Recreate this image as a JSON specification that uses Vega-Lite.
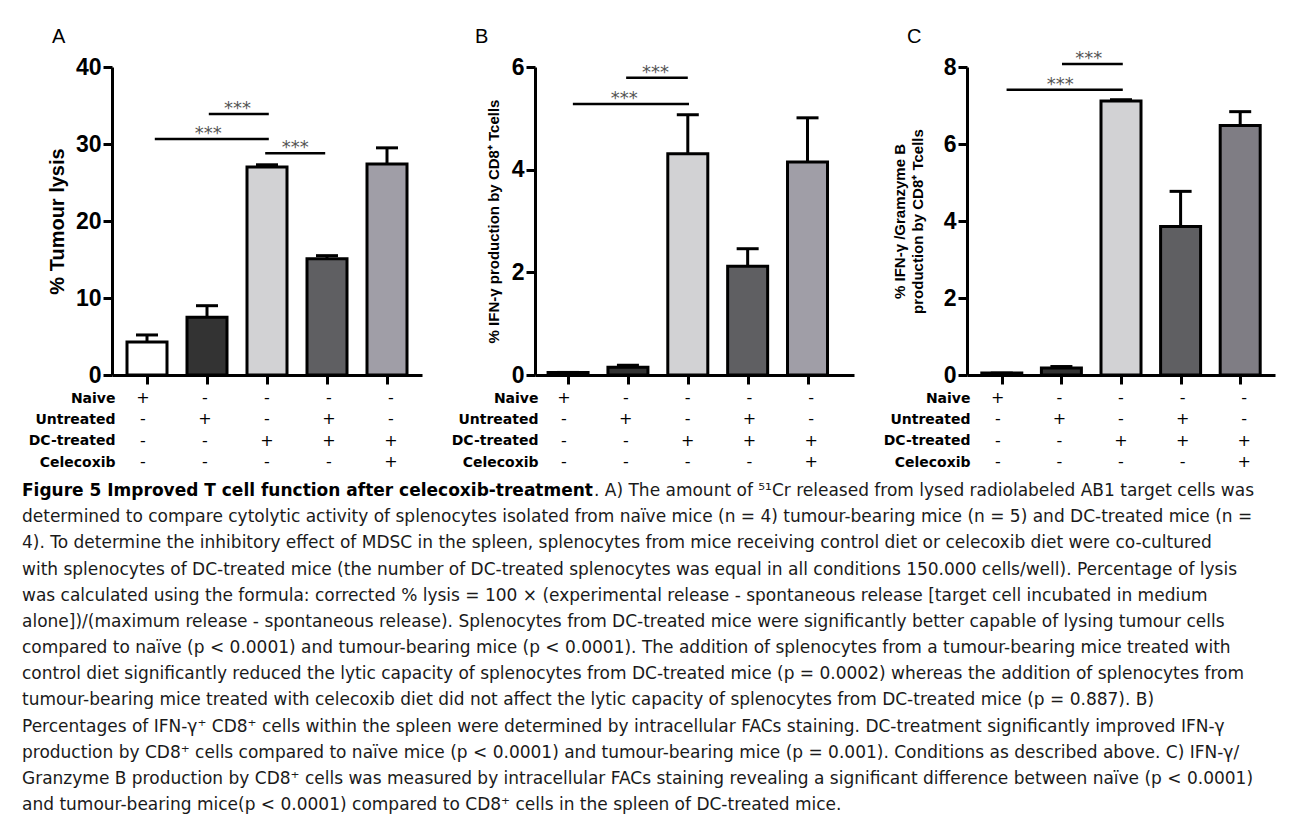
{
  "$schema": "https://vega.github.io/schema/vega-lite/v6.json",
  "background": "white",
  "padding": {"left": 22, "top": 26, "right": 4, "bottom": 4},
  "config": {
    "view": {"stroke": null},
    "axis": {"domainColor": "black", "tickColor": "black", "labelColor": "black", "titleColor": "black", "grid": false},
    "title": {"font": "Liberation Sans", "fontSize": 20, "fontWeight": "normal", "anchor": "start", "frame": "group", "dx": -60, "offset": 9.5, "color": "black"}
  },
  "datasets": {
    "barsA": [
      {"pos": 1, "value": 4.3, "upper": 5.2},
      {"pos": 2, "value": 7.5, "upper": 9.0},
      {"pos": 3, "value": 27.0, "upper": 27.3},
      {"pos": 4, "value": 15.1, "upper": 15.5},
      {"pos": 5, "value": 27.4, "upper": 29.5}
    ],
    "barsB": [
      {"pos": 1, "value": 0.05, "upper": 0.05},
      {"pos": 2, "value": 0.15, "upper": 0.19},
      {"pos": 3, "value": 4.31, "upper": 5.07},
      {"pos": 4, "value": 2.12, "upper": 2.46},
      {"pos": 5, "value": 4.15, "upper": 5.01}
    ],
    "barsC": [
      {"pos": 1, "value": 0.05, "upper": 0.05},
      {"pos": 2, "value": 0.18, "upper": 0.22},
      {"pos": 3, "value": 7.12, "upper": 7.15},
      {"pos": 4, "value": 3.86, "upper": 4.77},
      {"pos": 5, "value": 6.48, "upper": 6.84}
    ],
    "sigA": [
      {"x1": 2.03, "x2": 3.03, "y": 33.9, "tx": 2.51, "label": "***"},
      {"x1": 1.13, "x2": 3.03, "y": 30.65, "tx": 2.02, "label": "***"},
      {"x1": 2.97, "x2": 3.97, "y": 28.8, "tx": 3.47, "label": "***"}
    ],
    "sigB": [
      {"x1": 1.97, "x2": 3.0, "y": 5.79, "tx": 2.46, "label": "***"},
      {"x1": 1.08, "x2": 3.02, "y": 5.28, "tx": 1.94, "label": "***"}
    ],
    "sigC": [
      {"x1": 2.01, "x2": 3.03, "y": 8.08, "tx": 2.46, "label": "***"},
      {"x1": 1.08, "x2": 3.03, "y": 7.41, "tx": 1.98, "label": "***"}
    ],
    "conditions": [
      {"row": "Naive", "col": 1, "sign": "+"},
      {"row": "Naive", "col": 2, "sign": "-"},
      {"row": "Naive", "col": 3, "sign": "-"},
      {"row": "Naive", "col": 4, "sign": "-"},
      {"row": "Naive", "col": 5, "sign": "-"},
      {"row": "Untreated", "col": 1, "sign": "-"},
      {"row": "Untreated", "col": 2, "sign": "+"},
      {"row": "Untreated", "col": 3, "sign": "-"},
      {"row": "Untreated", "col": 4, "sign": "+"},
      {"row": "Untreated", "col": 5, "sign": "-"},
      {"row": "DC-treated", "col": 1, "sign": "-"},
      {"row": "DC-treated", "col": 2, "sign": "-"},
      {"row": "DC-treated", "col": 3, "sign": "+"},
      {"row": "DC-treated", "col": 4, "sign": "+"},
      {"row": "DC-treated", "col": 5, "sign": "+"},
      {"row": "Celecoxib", "col": 1, "sign": "-"},
      {"row": "Celecoxib", "col": 2, "sign": "-"},
      {"row": "Celecoxib", "col": 3, "sign": "-"},
      {"row": "Celecoxib", "col": 4, "sign": "-"},
      {"row": "Celecoxib", "col": 5, "sign": "+"}
    ],
    "caption": [
      {"line": 1, "style": "bold", "text": "Figure 5 Improved T cell function after celecoxib-treatment"},
      {"line": 1, "style": "cont", "text": ". A) The amount of ⁵¹Cr released from lysed radiolabeled AB1 target cells was"},
      {"line": 2, "style": "normal", "text": "determined to compare cytolytic activity of splenocytes isolated from naïve mice (n = 4) tumour-bearing mice (n = 5) and DC-treated mice (n ="},
      {"line": 3, "style": "normal", "text": "4). To determine the inhibitory effect of MDSC in the spleen, splenocytes from mice receiving control diet or celecoxib diet were co-cultured"},
      {"line": 4, "style": "normal", "text": "with splenocytes of DC-treated mice (the number of DC-treated splenocytes was equal in all conditions 150.000 cells/well). Percentage of lysis"},
      {"line": 5, "style": "normal", "text": "was calculated using the formula: corrected % lysis = 100 × (experimental release - spontaneous release [target cell incubated in medium"},
      {"line": 6, "style": "normal", "text": "alone])/(maximum release - spontaneous release). Splenocytes from DC-treated mice were significantly better capable of lysing tumour cells"},
      {"line": 7, "style": "normal", "text": "compared to naïve (p < 0.0001) and tumour-bearing mice (p < 0.0001). The addition of splenocytes from a tumour-bearing mice treated with"},
      {"line": 8, "style": "normal", "text": "control diet significantly reduced the lytic capacity of splenocytes from DC-treated mice (p = 0.0002) whereas the addition of splenocytes from"},
      {"line": 9, "style": "normal", "text": "tumour-bearing mice treated with celecoxib diet did not affect the lytic capacity of splenocytes from DC-treated mice (p = 0.887). B)"},
      {"line": 10, "style": "normal", "text": "Percentages of IFN-γ⁺ CD8⁺ cells within the spleen were determined by intracellular FACs staining. DC-treatment significantly improved IFN-γ"},
      {"line": 11, "style": "normal", "text": "production by CD8⁺ cells compared to naïve mice (p < 0.0001) and tumour-bearing mice (p = 0.001). Conditions as described above. C) IFN-γ/"},
      {"line": 12, "style": "normal", "text": "Granzyme B production by CD8⁺ cells was measured by intracellular FACs staining revealing a significant difference between naïve (p < 0.0001)"},
      {"line": 13, "style": "normal", "text": "and tumour-bearing mice(p < 0.0001) compared to CD8⁺ cells in the spleen of DC-treated mice."}
    ]
  },
  "spacing": 12,
  "vconcat": [
    {
      "columns": 3,
      "bounds": "flush",
      "spacing": {"row": 23, "column": 113},
      "resolve": {"scale": {"x": "independent", "y": "independent", "fill": "independent"}},
      "concat": [
        {
          "width": 310, "height": 308,
          "title": {"text": "A"},
          "layer": [
            {
              "data": {"name": "barsA"},
              "mark": {"type": "bar", "orient": "vertical", "width": 40, "stroke": "black", "strokeWidth": 3, "opacity": 1},
              "encoding": {
                "x": {"field": "pos", "type": "quantitative", "scale": {"domain": [0.5, 5.5], "nice": false, "zero": false},
                      "axis": {"values": [1, 2, 3, 4, 5], "labels": false, "title": null, "domainWidth": 3, "tickWidth": 3, "tickSize": 9}},
                "y": {"field": "value", "type": "quantitative", "scale": {"domain": [0, 40], "nice": false},
                      "axis": {"values": [0, 10, 20, 30, 40], "title": "% Tumour lysis", "domainWidth": 3, "tickWidth": 3, "tickSize": 9,
                               "labelFont": "Liberation Sans", "labelFontWeight": "bold", "labelFontSize": 23, "labelPadding": 2,
                               "titleFont": "Liberation Sans", "titleFontWeight": "bold", "titleFontSize": 20, "titlePadding": 8}},
                "fill": {"field": "pos", "type": "nominal", "legend": null,
                         "scale": {"domain": [1, 2, 3, 4, 5], "range": ["#ffffff", "#333333", "#d2d2d4", "#5f5f62", "#a09ea7"]}}
              }
            },
            {
              "data": {"name": "barsA"},
              "mark": {"type": "rule", "strokeWidth": 3, "color": "black"},
              "encoding": {"x": {"field": "pos", "type": "quantitative"}, "y": {"field": "value", "type": "quantitative"}, "y2": {"field": "upper"}}
            },
            {
              "data": {"name": "barsA"},
              "mark": {"type": "tick", "orient": "horizontal", "size": 22, "thickness": 3, "color": "black", "opacity": 1},
              "encoding": {"x": {"field": "pos", "type": "quantitative"}, "y": {"field": "upper", "type": "quantitative"}}
            },
            {
              "data": {"name": "sigA"},
              "mark": {"type": "rule", "strokeWidth": 2.5, "color": "black"},
              "encoding": {"x": {"field": "x1", "type": "quantitative"}, "x2": {"field": "x2"}, "y": {"field": "y", "type": "quantitative"}}
            },
            {
              "data": {"name": "sigA"},
              "mark": {"type": "text", "font": "DejaVu Sans", "fontSize": 18, "color": "#555555", "baseline": "alphabetic", "align": "center"},
              "encoding": {"x": {"field": "tx", "type": "quantitative"}, "y": {"field": "y", "type": "quantitative"}, "text": {"field": "label"}}
            }
          ]
        },
        {
          "width": 319, "height": 308,
          "title": {"text": "B"},
          "layer": [
            {
              "data": {"name": "barsB"},
              "mark": {"type": "bar", "orient": "vertical", "width": 40, "stroke": "black", "strokeWidth": 3, "opacity": 1},
              "encoding": {
                "x": {"field": "pos", "type": "quantitative", "scale": {"domain": [0.531, 5.693], "nice": false, "zero": false},
                      "axis": {"values": [1, 2, 3, 4, 5], "labels": false, "title": null, "domainWidth": 3, "tickWidth": 3, "tickSize": 9}},
                "y": {"field": "value", "type": "quantitative", "scale": {"domain": [0, 6], "nice": false},
                      "axis": {"values": [0, 2, 4, 6], "title": "% IFN-γ production by CD8⁺ Tcells", "domainWidth": 3, "tickWidth": 3, "tickSize": 9,
                               "labelFont": "Liberation Sans", "labelFontWeight": "bold", "labelFontSize": 23, "labelPadding": 2,
                               "titleFont": "Liberation Sans", "titleFontWeight": "bold", "titleFontSize": 15, "titlePadding": 10}},
                "fill": {"field": "pos", "type": "nominal", "legend": null,
                         "scale": {"domain": [1, 2, 3, 4, 5], "range": ["#ffffff", "#333333", "#d2d2d4", "#5f5f62", "#a09ea7"]}}
              }
            },
            {
              "data": {"name": "barsB"},
              "mark": {"type": "rule", "strokeWidth": 3, "color": "black"},
              "encoding": {"x": {"field": "pos", "type": "quantitative"}, "y": {"field": "value", "type": "quantitative"}, "y2": {"field": "upper"}}
            },
            {
              "data": {"name": "barsB"},
              "mark": {"type": "tick", "orient": "horizontal", "size": 22, "thickness": 3, "color": "black", "opacity": 1},
              "encoding": {"x": {"field": "pos", "type": "quantitative"}, "y": {"field": "upper", "type": "quantitative"}}
            },
            {
              "data": {"name": "sigB"},
              "mark": {"type": "rule", "strokeWidth": 2.5, "color": "black"},
              "encoding": {"x": {"field": "x1", "type": "quantitative"}, "x2": {"field": "x2"}, "y": {"field": "y", "type": "quantitative"}}
            },
            {
              "data": {"name": "sigB"},
              "mark": {"type": "text", "font": "DejaVu Sans", "fontSize": 18, "color": "#555555", "baseline": "alphabetic", "align": "center"},
              "encoding": {"x": {"field": "tx", "type": "quantitative"}, "y": {"field": "y", "type": "quantitative"}, "text": {"field": "label"}}
            }
          ]
        },
        {
          "width": 308, "height": 308,
          "title": {"text": "C", "offset": 2.5},
          "layer": [
            {
              "data": {"name": "barsC"},
              "mark": {"type": "bar", "orient": "vertical", "width": 40, "stroke": "black", "strokeWidth": 3, "opacity": 1},
              "encoding": {
                "x": {"field": "pos", "type": "quantitative", "scale": {"domain": [0.5, 5.5], "nice": false, "zero": false},
                      "axis": {"values": [1, 2, 3, 4, 5], "labels": false, "title": null, "domainWidth": 3, "tickWidth": 3, "tickSize": 9}},
                "y": {"field": "value", "type": "quantitative", "scale": {"domain": [0, 8], "nice": false},
                      "axis": {"values": [0, 2, 4, 6, 8], "title": ["% IFN-γ /Gramzyme B", "production by CD8⁺ Tcells"], "domainWidth": 3, "tickWidth": 3, "tickSize": 9,
                               "labelFont": "Liberation Sans", "labelFontWeight": "bold", "labelFontSize": 23, "labelPadding": 2,
                               "titleFont": "Liberation Sans", "titleFontWeight": "bold", "titleFontSize": 15, "titleLineHeight": 18, "titlePadding": 18}},
                "fill": {"field": "pos", "type": "nominal", "legend": null,
                         "scale": {"domain": [1, 2, 3, 4, 5], "range": ["#ffffff", "#333333", "#d2d2d4", "#5f5f62", "#7f7d84"]}}
              }
            },
            {
              "data": {"name": "barsC"},
              "mark": {"type": "rule", "strokeWidth": 3, "color": "black"},
              "encoding": {"x": {"field": "pos", "type": "quantitative"}, "y": {"field": "value", "type": "quantitative"}, "y2": {"field": "upper"}}
            },
            {
              "data": {"name": "barsC"},
              "mark": {"type": "tick", "orient": "horizontal", "size": 22, "thickness": 3, "color": "black", "opacity": 1},
              "encoding": {"x": {"field": "pos", "type": "quantitative"}, "y": {"field": "upper", "type": "quantitative"}}
            },
            {
              "data": {"name": "sigC"},
              "mark": {"type": "rule", "strokeWidth": 2.5, "color": "black"},
              "encoding": {"x": {"field": "x1", "type": "quantitative"}, "x2": {"field": "x2"}, "y": {"field": "y", "type": "quantitative"}}
            },
            {
              "data": {"name": "sigC"},
              "mark": {"type": "text", "font": "DejaVu Sans", "fontSize": 18, "color": "#555555", "baseline": "alphabetic", "align": "center"},
              "encoding": {"x": {"field": "tx", "type": "quantitative"}, "y": {"field": "y", "type": "quantitative"}, "text": {"field": "label"}}
            }
          ]
        },
        {
          "width": 310, "height": 64,
          "data": {"name": "conditions"},
          "mark": {"type": "text", "font": "DejaVu Sans", "fontSize": 16, "color": "black", "baseline": "middle", "align": "center"},
          "encoding": {
            "x": {"field": "col", "type": "quantitative", "scale": {"domain": [0.5, 5.5], "nice": false, "zero": false}, "axis": null},
            "y": {"field": "row", "type": "ordinal", "sort": ["Naive", "Untreated", "DC-treated", "Celecoxib"], "scale": {"type": "point", "padding": 0},
                  "axis": {"title": null, "domain": false, "ticks": false, "tickSize": 0, "labelPadding": -3, "labelFont": "DejaVu Sans", "labelFontWeight": "bold", "labelFontSize": 14}},
            "text": {"field": "sign"}
          }
        },
        {
          "width": 319, "height": 64,
          "data": {"name": "conditions"},
          "mark": {"type": "text", "font": "DejaVu Sans", "fontSize": 16, "color": "black", "baseline": "middle", "align": "center"},
          "encoding": {
            "x": {"field": "col", "type": "quantitative", "scale": {"domain": [0.531, 5.693], "nice": false, "zero": false}, "axis": null},
            "y": {"field": "row", "type": "ordinal", "sort": ["Naive", "Untreated", "DC-treated", "Celecoxib"], "scale": {"type": "point", "padding": 0},
                  "axis": {"title": null, "domain": false, "ticks": false, "tickSize": 0, "labelPadding": -3, "labelFont": "DejaVu Sans", "labelFontWeight": "bold", "labelFontSize": 14}},
            "text": {"field": "sign"}
          }
        },
        {
          "width": 308, "height": 64,
          "data": {"name": "conditions"},
          "mark": {"type": "text", "font": "DejaVu Sans", "fontSize": 16, "color": "black", "baseline": "middle", "align": "center"},
          "encoding": {
            "x": {"field": "col", "type": "quantitative", "scale": {"domain": [0.5, 5.5], "nice": false, "zero": false}, "axis": null},
            "y": {"field": "row", "type": "ordinal", "sort": ["Naive", "Untreated", "DC-treated", "Celecoxib"], "scale": {"type": "point", "padding": 0},
                  "axis": {"title": null, "domain": false, "ticks": false, "tickSize": 0, "labelPadding": -3, "labelFont": "DejaVu Sans", "labelFontWeight": "bold", "labelFontSize": 14}},
            "text": {"field": "sign"}
          }
        }
      ]
    },
    {
      "width": 1250, "height": 314,
      "data": {"name": "caption"},
      "encoding": {
        "x": {"value": 0},
        "y": {"field": "line", "type": "ordinal", "scale": {"type": "point", "padding": 0}, "axis": null},
        "text": {"field": "text"}
      },
      "layer": [
        {
          "transform": [{"filter": "datum.style == 'bold'"}],
          "mark": {"type": "text", "align": "left", "baseline": "middle", "font": "DejaVu Sans", "fontSize": 17, "fontWeight": "bold", "color": "black", "dx": -90}
        },
        {
          "transform": [{"filter": "datum.style == 'cont'"}],
          "mark": {"type": "text", "align": "left", "baseline": "middle", "font": "DejaVu Sans", "fontSize": 17, "color": "#1a1a1a", "dx": 482}
        },
        {
          "transform": [{"filter": "datum.style == 'normal'"}],
          "mark": {"type": "text", "align": "left", "baseline": "middle", "font": "DejaVu Sans", "fontSize": 17, "color": "#1a1a1a", "dx": -90}
        }
      ]
    }
  ]
}
